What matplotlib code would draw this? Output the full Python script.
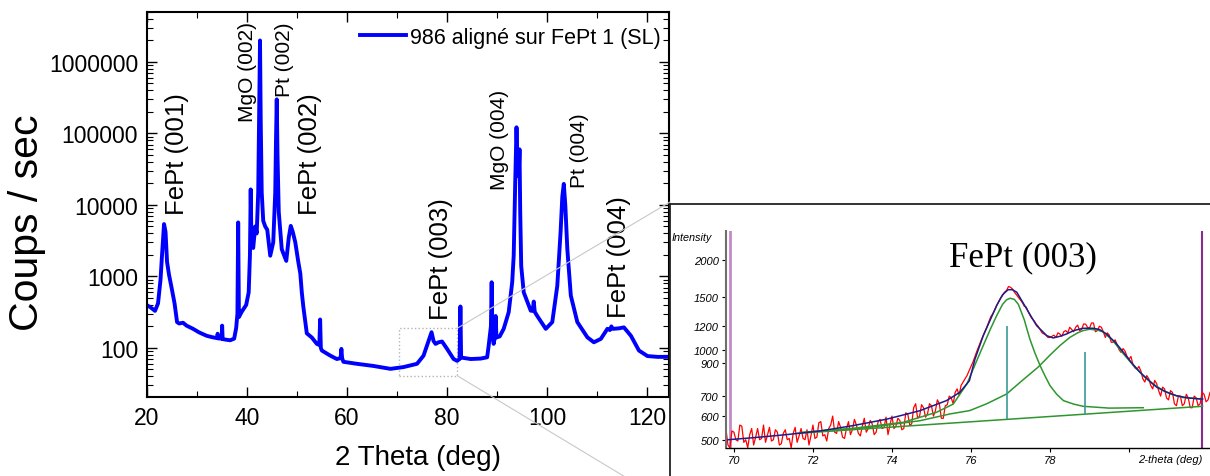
import numpy as np
import matplotlib
matplotlib.use("Agg")
import matplotlib.pyplot as plt
from matplotlib.patches import Rectangle, ConnectionPatch
from matplotlib.ticker import LogLocator, MultipleLocator, NullFormatter, NullLocator

W, H = 1210, 477
plt.rcParams['font.family'] = ['Liberation Sans', 'DejaVu Sans']
SERIF = ['Liberation Serif', 'DejaVu Serif']

# --- main scan: (2theta, coups/sec) ---
scan = [
    (20.0, 400), (20.8, 370), (21.7, 330), (22.3, 420), (22.8, 900),
    (23.1, 2000), (23.5, 5400), (23.8, 4200), (24.1, 1600), (24.5, 1050),
    (25.0, 700), (25.6, 420), (26.1, 230), (26.5, 220), (27.3, 225),
    (28.0, 205), (29.3, 185), (30.5, 165), (32.0, 148), (33.0, 142),
    (34.0, 137), (34.1, 137), (34.2, 158), (34.3, 136), (35.0, 135),
    (35.1, 205), (35.2, 133), (36.0, 130), (36.7, 128), (37.5, 135),
    (37.9, 190), (38.15, 300), (38.3, 5700), (38.45, 270), (39.0, 320),
    (39.9, 400), (40.4, 600), (40.65, 2000), (40.8, 16500), (40.95, 3000),
    (41.3, 2500), (41.7, 5000), (42.0, 4000), (42.3, 15000), (42.5, 200000),
    (42.66, 2000000), (42.8, 150000), (43.0, 15000), (43.3, 6000), (43.7, 5000),
    (44.1, 4500), (44.7, 1950), (45.3, 3000), (45.7, 15000), (45.85, 80000),
    (46.0, 300000), (46.15, 50000), (46.4, 8000), (47.0, 2400), (47.9, 1650),
    (48.4, 3500), (48.8, 5100), (49.2, 4200), (49.7, 3000), (50.3, 1600),
    (50.7, 1100), (51.0, 600), (51.3, 380), (52.0, 160), (53.0, 140),
    (54.0, 114), (54.5, 110), (54.66, 250), (54.8, 100), (55.0, 92),
    (56.7, 78), (58.0, 70), (58.75, 72), (58.9, 97), (59.05, 72),
    (59.3, 64), (62.0, 60), (65.3, 56), (68.7, 51), (71.3, 54),
    (74.0, 60), (75.3, 78), (76.2, 120), (76.9, 166), (77.3, 125),
    (77.7, 114), (78.3, 120), (79.0, 123), (80.0, 97), (81.3, 70),
    (82.0, 66), (82.5, 70), (82.66, 380), (82.8, 75), (83.0, 73),
    (84.7, 70), (86.7, 71), (88.0, 74), (88.3, 107), (88.75, 200),
    (88.9, 830), (89.05, 150), (89.3, 114), (89.6, 150), (89.7, 280),
    (89.85, 140), (90.5, 145), (91.3, 185), (92.3, 316), (93.0, 830),
    (93.3, 1950), (93.6, 20000), (93.86, 122000), (94.1, 30000), (94.3, 25000),
    (94.46, 60000), (94.6, 8000), (94.8, 1400), (95.3, 600), (96.7, 332),
    (97.1, 330), (97.3, 445), (97.5, 320), (98.0, 280), (99.7, 185),
    (101.0, 230), (102.0, 740), (102.66, 4200), (103.0, 13000), (103.3, 19700),
    (103.6, 10000), (104.0, 2430), (104.7, 540), (106.0, 230), (108.0, 141),
    (109.3, 120), (110.7, 134), (112.0, 185), (112.5, 178), (112.8, 200),
    (113.1, 185), (114.3, 188), (115.3, 194), (116.7, 148), (118.3, 92),
    (120.0, 77), (122.0, 75), (124.3, 75),
]
scan_label = "986 aligné sur FePt 1 (SL)"

# peak annotations: text, 2theta (centre), counts (bottom of text), size
peaks = [
    ("FePt (001)", 26.1, 7480, 18.5),
    ("MgO (002)", 40.1, 150000, 15),
    ("Pt (002)", 47.5, 334000, 15),
    ("FePt (002)", 52.7, 7480, 18.5),
    ("FePt (003)", 78.7, 256, 18.5),
    ("MgO (004)", 90.5, 16700, 15),
    ("Pt (004)", 106.5, 17800, 15),
    ("FePt (004)", 114.3, 270, 18.5),
]
y_decades = [100, 1000, 10000, 100000, 1000000]

# --- inset: FePt (003) fit ---
meas_x = [
    69.80, 69.85, 69.90, 69.95, 70.00, 70.05, 70.10, 70.15, 70.20, 70.25,
    70.30, 70.35, 70.40, 70.45, 70.50, 70.55, 70.60, 70.65, 70.70, 70.75,
    70.80, 70.85, 70.90, 70.95, 71.00, 71.05, 71.10, 71.15, 71.20, 71.25,
    71.30, 71.35, 71.40, 71.45, 71.50, 71.55, 71.60, 71.65, 71.70, 71.75,
    71.80, 71.85, 71.90, 71.95, 72.00, 72.05, 72.10, 72.15, 72.20, 72.25,
    72.30, 72.35, 72.40, 72.45, 72.50, 72.55, 72.60, 72.65, 72.70, 72.75,
    72.80, 72.85, 72.90, 72.95, 73.00, 73.05, 73.10, 73.15, 73.20, 73.25,
    73.30, 73.35, 73.40, 73.45, 73.50, 73.55, 73.60, 73.65, 73.70, 73.75,
    73.80, 73.85, 73.90, 73.95, 74.00, 74.05, 74.10, 74.15, 74.20, 74.25,
    74.30, 74.35, 74.40, 74.45, 74.50, 74.55, 74.60, 74.65, 74.70, 74.75,
    74.80, 74.85, 74.90, 74.95, 75.00, 75.05, 75.10, 75.15, 75.20, 75.25,
    75.30, 75.35, 75.40, 75.45, 75.50, 75.55, 75.60, 75.65, 75.70, 75.75,
    75.80, 75.85, 75.90, 75.95, 76.00, 76.05, 76.10, 76.15, 76.20, 76.25,
    76.30, 76.35, 76.40, 76.45, 76.50, 76.55, 76.60, 76.65, 76.70, 76.75,
    76.80, 76.85, 76.90, 76.95, 77.00, 77.05, 77.10, 77.15, 77.20, 77.25,
    77.30, 77.35, 77.40, 77.45, 77.50, 77.55, 77.60, 77.65, 77.70, 77.75,
    77.80, 77.85, 77.90, 77.95, 78.00, 78.05, 78.10, 78.15, 78.20, 78.25,
    78.30, 78.35, 78.40, 78.45, 78.50, 78.55, 78.60, 78.65, 78.70, 78.75,
    78.80, 78.85, 78.90, 78.95, 79.00, 79.05, 79.10, 79.15, 79.20, 79.25,
    79.30, 79.35, 79.40, 79.45, 79.50, 79.55, 79.60, 79.65, 79.70, 79.75,
    79.80, 79.85, 79.90, 79.95, 80.00, 80.05, 80.10, 80.15, 80.20, 80.25,
    80.30, 80.35, 80.40, 80.45, 80.50, 80.55, 80.60, 80.65, 80.70, 80.75,
    80.80, 80.85, 80.90, 80.95, 81.00, 81.05, 81.10, 81.15, 81.20, 81.25,
    81.30, 81.35, 81.40, 81.45, 81.50, 81.55, 81.60, 81.65, 81.70, 81.75,
    81.80, 81.85, 81.90, 81.95, 82.00, 82.05,
]
meas_y = [
    540, 480, 470, 535, 530, 500, 495, 560, 555, 490,
    500, 470, 520, 545, 480, 510, 545, 500, 505, 560,
    490, 520, 550, 495, 500, 540, 530, 480, 485, 525,
    540, 500, 505, 470, 525, 550, 490, 515, 545, 505,
    500, 540, 480, 515, 560, 505, 510, 570, 575, 515,
    520, 495, 545, 560, 600, 530, 525, 575, 550, 510,
    505, 545, 575, 520, 540, 585, 560, 525, 515, 555,
    590, 530, 545, 580, 565, 520, 530, 575, 585, 545,
    550, 595, 520, 560, 600, 545, 555, 590, 580, 540,
    545, 615, 610, 560, 565, 640, 660, 590, 600, 655,
    640, 595, 610, 660, 650, 600, 625, 680, 660, 590,
    590, 650, 655, 700, 690, 660, 720, 740, 705, 760,
    780, 800, 820, 850, 880, 910, 950, 990, 1030, 1070,
    1110, 1150, 1190, 1240, 1290, 1320, 1360, 1410, 1450, 1490,
    1520, 1560, 1580, 1630, 1620, 1600, 1560, 1530, 1500, 1470,
    1440, 1400, 1390, 1340, 1300, 1270, 1250, 1220, 1200, 1170,
    1140, 1130, 1120, 1100, 1100, 1110, 1120, 1100, 1140, 1130,
    1110, 1150, 1160, 1140, 1190, 1170, 1150, 1190, 1210, 1160,
    1170, 1220, 1220, 1190, 1180, 1230, 1230, 1150, 1160, 1200,
    1190, 1150, 1100, 1140, 1120, 1060, 1060, 1080, 1040, 1000,
    980, 1010, 990, 950, 930, 950, 890, 870, 860, 880,
    850, 800, 780, 820, 800, 760, 740, 790, 770, 730,
    700, 750, 740, 690, 680, 730, 720, 660, 650, 700,
    700, 650, 660, 710, 690, 640, 640, 700, 690, 650,
    660, 720, 710, 670, 680, 720,
]
fit_x = [69.85, 70.5, 71.33, 72.18, 73.0, 73.87, 74.7, 75.38, 75.72, 75.96,
         76.1, 76.31, 76.5, 76.65, 76.8, 76.94, 77.05, 77.16, 77.41, 77.66,
         77.92, 78.08, 78.25, 78.42, 78.6, 78.84, 79.1, 79.25, 79.43, 79.65,
         79.86, 80.05, 80.28, 80.5, 80.7, 80.95, 81.2, 81.5, 81.86]
fit_y = [500, 508, 520, 535, 557, 586, 625, 676, 721, 788,
         930, 1114, 1270, 1406, 1530, 1590, 1590, 1559, 1371, 1206,
         1115, 1096, 1110, 1130, 1160, 1181, 1181, 1170, 1130, 1060,
         981, 910, 841, 790, 750, 722, 702, 690, 684]
pk1_x = [71.75, 73.02, 74.29, 75.13, 75.55, 75.9, 76.1, 76.31, 76.5, 76.65,
         76.8, 76.9, 76.99, 77.1, 77.2, 77.35, 77.49, 77.62, 77.75, 77.88,
         78.0, 78.17, 78.34, 78.6, 78.84, 79.5, 80.36]
pk1_y = [530, 546, 572, 618, 658, 770, 890, 1033, 1180, 1301,
         1420, 1470, 1489, 1475, 1420, 1260, 1087, 975, 885, 815,
         759, 710, 676, 658, 647, 638, 640]
pk2_x = [72.5, 73.44, 74.71, 75.47, 75.97, 76.4, 76.9, 77.3, 77.7, 78.0,
         78.25, 78.5, 78.7, 78.84, 79.0, 79.2, 79.35, 79.6, 79.86, 80.1,
         80.36, 80.6, 80.87, 81.1, 81.37, 81.86]
pk2_y = [537, 550, 579, 610, 626, 660, 711, 790, 875, 960,
         1033, 1100, 1140, 1160, 1172, 1165, 1148, 1070, 969, 890,
         819, 770, 730, 708, 692, 684]
bg_x = [71.6, 81.86]
bg_y = [525, 647]
stick_x = [76.92, 78.89]
stick_lo = [588, 612]
stick_hi = [1205, 981]
inset_yticks = [500, 600, 700, 900, 1000, 1200, 1500, 2000]
inset_xticks = [70, 72, 74, 76, 78, 80]
inset_xlabels = ['70', '72', '74', '76', '78', '']


def box(l, t, r, b):
    """pixel box (left, top, right, bottom) -> figure fraction rect"""
    return [l / W, 1 - b / H, (r - l) / W, (b - t) / H]


fig = plt.figure(figsize=(W / 100, H / 100), dpi=100)

# ---------------- main XRD scan ----------------
ax = fig.add_axes(box(146.5, 13, 669, 398.3))
tt, cps = np.array(scan).T
ax.plot(tt, cps, color='#0000ff', lw=2.8, label=scan_label)
ax.set_yscale('log')
ax.set_xlim(20, 124.3)
ax.set_ylim(20.4, 5e6)
ax.set_xticks([20, 40, 60, 80, 100, 120])
ax.xaxis.set_minor_locator(MultipleLocator(10))
ax.set_yticks(y_decades, labels=[str(v) for v in y_decades])
ax.yaxis.set_minor_locator(LogLocator(base=10, subs=np.arange(2, 10), numticks=20))
ax.yaxis.set_minor_formatter(NullFormatter())
ax.tick_params(which='both', direction='in', top=True, right=True)
ax.tick_params(which='major', length=7, width=1, labelsize=16.5, pad=6)
ax.tick_params(which='minor', length=4, width=0.8)
for s in ax.spines.values():
    s.set_linewidth(1.5)

for txt, x, y, fs in peaks:
    ax.text(x, y, txt, rotation=90, ha='center', va='bottom', fontsize=fs)

ax.legend(loc='center right', bbox_to_anchor=(0.985, 0.935), frameon=False,
          fontsize=15.5, handlelength=2.15, handletextpad=0.2, borderpad=0,
          borderaxespad=0)

fig.text(27 / W, 1 - 223 / H, "Coups / sec", rotation=90, ha='center',
         va='center', fontsize=29.5)
fig.text(418 / W, 1 - 458 / H, "2 Theta (deg)", ha='center', va='center',
         fontsize=20)

# zoom box + connector lines
ax.add_patch(Rectangle((70.5, 41), 11.5, 147, fill=False, ls=':',
                       ec='#b4b4b4', lw=1))
for ya, yb in [(188, 203), (41, 505)]:
    con = ConnectionPatch(xyA=(82.0, ya), coordsA=ax.transData,
                          xyB=(670 / W, 1 - yb / H), coordsB=fig.transFigure,
                          color='#c8c8c8', lw=0.8)
    fig.add_artist(con)

# ---------------- inset ----------------
frame = fig.add_axes(box(670, 205, 1214, 482))
frame.set_xticks([])
frame.set_yticks([])
frame.spines['right'].set_visible(False)
frame.spines['bottom'].set_visible(False)
for side in ['top', 'left']:
    frame.spines[side].set_linewidth(1.3)
    frame.spines[side].set_color('#222222')

ins = fig.add_axes(box(726, 231.7, 1210, 449.3))
ins.patch.set_alpha(0)
ins.set_yscale('log')
ins.set_xlim(69.8, 82.05)
ins.set_ylim(468, 2506)
ins.plot(meas_x, meas_y, color='#ff0000', lw=0.9, zorder=2)
ins.plot(bg_x, bg_y, color='#2f962f', lw=1.1, zorder=3)
ins.plot(pk1_x, pk1_y, color='#2f962f', lw=1.1, zorder=3)
ins.plot(pk2_x, pk2_y, color='#2f962f', lw=1.1, zorder=3)
ins.plot(fit_x, fit_y, color='#1c1c8c', lw=1.1, zorder=4)
ins.vlines(stick_x, stick_lo, stick_hi, color='#3a9a9a', lw=1.2, zorder=3)
ins.axvline(69.9, color='#c48ac8', lw=2, zorder=1)
ins.axvline(81.86, color='#8a2a8e', lw=1.5, zorder=1)

ins.set_yticks(inset_yticks, labels=[str(v) for v in inset_yticks])
ins.yaxis.set_minor_locator(NullLocator())
ins.set_xticks(inset_xticks, labels=inset_xlabels)
ins.tick_params(direction='out', length=3, width=0.8, labelsize=8, pad=2)
for lab in ins.get_xticklabels() + ins.get_yticklabels():
    lab.set_style('italic')
ins.spines['top'].set_visible(False)
ins.spines['right'].set_visible(False)
ins.spines['left'].set_color('#6e6e6e')
ins.spines['left'].set_linewidth(1.5)
ins.spines['bottom'].set_linewidth(1.0)

fig.text(672 / W, 1 - 238 / H, "Intensity", ha='left', va='center',
         fontsize=7.8, style='italic')
fig.text(1202 / W, 1 - 460 / H, "2-theta (deg)", ha='right', va='center',
         fontsize=8, style='italic')
fig.text(1023 / W, 1 - 258 / H, "FePt (003)", ha='center', va='center',
         fontsize=25, family=SERIF)

fig.savefig("out.png", dpi=100)
